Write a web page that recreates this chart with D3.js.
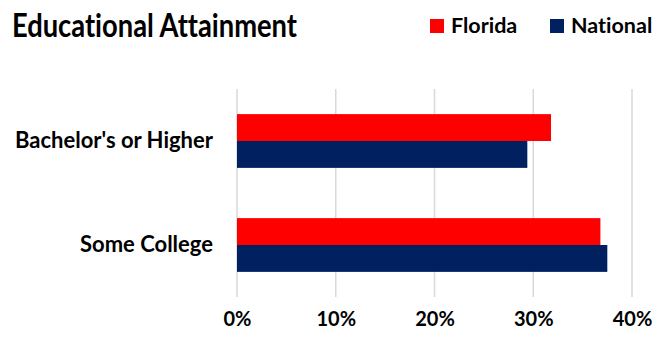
<!DOCTYPE html>
<html>
<head>
<meta charset="utf-8">
<script src="https://cdn.jsdelivr.net/npm/d3@7"></script>
<style>
  html, body { margin: 0; padding: 0; background: #fff; }
  text { font-family: Lato, "Open Sans", sans-serif; font-weight: 700; fill: #000; font-variant-ligatures: none; }
</style>
</head>
<body>
<svg id="chart" width="666" height="341"></svg>
<script>
const categories = ["Bachelor's or Higher", "Some College"];
const seriesNames = ["Florida", "National"];
const floridaValues = [31.8, 36.8];
const nationalValues = [29.4, 37.5];
const tickValues = [0, 10, 20, 30, 40];
const colors = ["#FF0000", "#002060"];

const svg = d3.select("#chart");
const margin = {left: 237, right: 34, top: 89, bottom: 44};
const W = 666, H = 341;

const x = d3.scaleLinear().domain([0, 40]).range([margin.left, W - margin.right]);
const y = d3.scaleBand().domain(categories).range([margin.top, H - margin.bottom])
  .paddingInner(0.483).paddingOuter(0.2415);
const ySub = d3.scaleBand().domain(seriesNames).range([0, y.bandwidth()]);

// gridlines
svg.append("g").selectAll("line").data(tickValues).join("line")
  .attr("x1", d => x(d)).attr("x2", d => x(d))
  .attr("y1", margin.top).attr("y2", H - margin.bottom)
  .attr("stroke", "#D9D9D9").attr("stroke-width", 1.5);

// bars
const data = categories.map((c, i) => ({cat: c, vals: [floridaValues[i], nationalValues[i]]}));
const groups = svg.append("g").selectAll("g").data(data).join("g")
  .attr("transform", d => `translate(0,${y(d.cat)})`);
groups.selectAll("rect").data(d => d.vals.map((v, j) => ({name: seriesNames[j], v, j})))
  .join("rect")
  .attr("x", x(0))
  .attr("y", d => ySub(d.name))
  .attr("width", d => x(d.v) - x(0))
  .attr("height", ySub.bandwidth())
  .attr("fill", d => colors[d.j]);

// x axis labels
const xAxis = d3.axisBottom(x).tickValues(tickValues).tickFormat(d => d + "%").tickSize(0).tickPadding(0);
const gx = svg.append("g").attr("transform", `translate(0,${H - margin.bottom})`).call(xAxis);
gx.select(".domain").remove();
gx.selectAll("text").attr("font-size", 20).attr("dy", null).attr("y", 29)
  .style("font-family", "Lato, sans-serif").style("font-weight", 700);

// y axis labels
const yAxis = d3.axisLeft(y).tickSize(0).tickPadding(24);
const gy = svg.append("g").attr("transform", `translate(${x(0)},0)`).call(yAxis);
gy.select(".domain").remove();
gy.selectAll("text").attr("font-size", 22).attr("dy", "0.33em")
  .style("font-family", "Lato, sans-serif").style("font-weight", 700);

// title
svg.append("text").attr("x", 12).attr("y", 37).attr("font-size", 33)
  .attr("textLength", 285).attr("lengthAdjust", "spacingAndGlyphs")
  .text("Educational Attainment");

// legend
const legX = [430, 550];
const leg = svg.append("g").selectAll("g").data(seriesNames).join("g")
  .attr("transform", (d, i) => `translate(${legX[i]},19)`);
leg.append("rect").attr("width", 14).attr("height", 14).attr("fill", (d, i) => colors[i]);
leg.append("text").attr("x", 21).attr("y", 14).attr("font-size", 21.5).text(d => d);
</script>
</body>
</html>
